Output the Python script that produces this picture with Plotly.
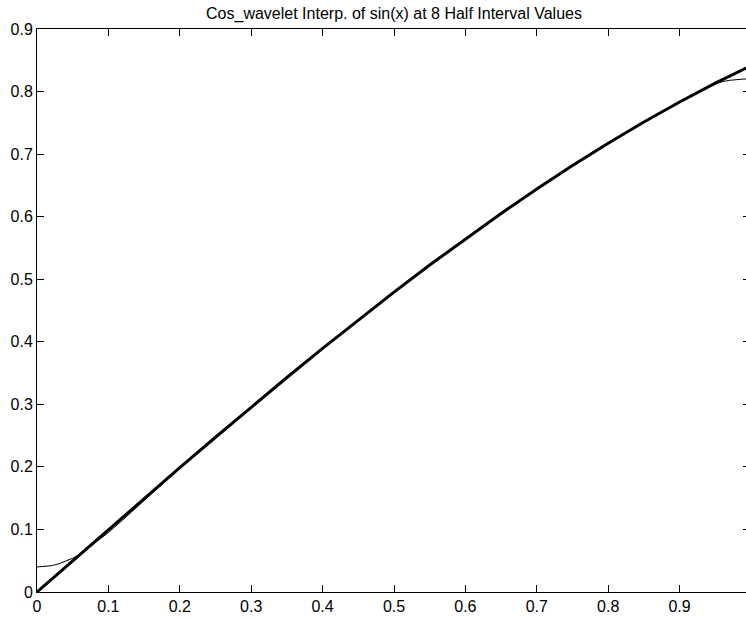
import plotly.graph_objects as go

# sin(x) samples (thick line)
x_sin = [0.00, 0.05, 0.10, 0.15, 0.20, 0.25, 0.30, 0.35, 0.40, 0.45, 0.50,
         0.55, 0.60, 0.65, 0.70, 0.75, 0.80, 0.85, 0.90, 0.95, 1.00]
y_sin = [0.0000, 0.0500, 0.0998, 0.1494, 0.1987, 0.2474, 0.2955, 0.3429, 0.3894,
         0.4350, 0.4794, 0.5227, 0.5646, 0.6052, 0.6442, 0.6816, 0.7174, 0.7513,
         0.7833, 0.8134, 0.8415]

# Cos_wavelet interpolation (thin line)
x_interp = [0.00, 0.01, 0.02, 0.03, 0.04, 0.05, 0.06, 0.07, 0.08, 0.10, 0.12,
            0.14, 0.16, 0.18, 0.20, 0.25, 0.30, 0.35, 0.40, 0.45, 0.50, 0.55,
            0.60, 0.65, 0.70, 0.75, 0.80, 0.85, 0.90, 0.92, 0.94, 0.95, 0.96,
            0.97, 0.98, 0.99, 1.00]
y_interp = [0.0400, 0.0405, 0.0420, 0.0448, 0.0488, 0.0540, 0.0600, 0.0685,
            0.0770, 0.0950, 0.1150, 0.1355, 0.1565, 0.1780, 0.1980, 0.2474,
            0.2955, 0.3429, 0.3894, 0.4350, 0.4794, 0.5227, 0.5646, 0.6052,
            0.6442, 0.6816, 0.7174, 0.7513, 0.7833, 0.7956, 0.8070, 0.8120,
            0.8158, 0.8180, 0.8193, 0.8200, 0.8200]

x_ticks = [0, 0.1, 0.2, 0.3, 0.4, 0.5, 0.6, 0.7, 0.8, 0.9]
x_labels = ["0", "0.1", "0.2", "0.3", "0.4", "0.5", "0.6", "0.7", "0.8", "0.9"]
y_ticks = [0, 0.1, 0.2, 0.3, 0.4, 0.5, 0.6, 0.7, 0.8, 0.9]
y_labels = ["0", "0.1", "0.2", "0.3", "0.4", "0.5", "0.6", "0.7", "0.8", "0.9"]

title_text = "Cos_wavelet Interp. of sin(x) at 8 Half Interval Values"

FONT = "Liberation Sans, Arial, Helvetica, sans-serif"

fig = go.Figure()
fig.add_trace(go.Scatter(x=x_sin, y=y_sin, mode="lines",
                         line=dict(color="black", width=3),
                         showlegend=False, hoverinfo="skip"))
fig.add_trace(go.Scatter(x=x_interp, y=y_interp, mode="lines",
                         line=dict(color="black", width=1),
                         showlegend=False, hoverinfo="skip"))
# dummy trace to activate right-side tick axis
fig.add_trace(go.Scatter(x=[0], y=[0], mode="lines", yaxis="y2",
                         line=dict(color="rgba(0,0,0,0)"),
                         showlegend=False, hoverinfo="skip"))

fig.update_layout(
    width=746, height=619,
    margin=dict(l=37, r=0, t=29, b=27),
    paper_bgcolor="white", plot_bgcolor="white",
    font=dict(family=FONT, size=16, color="black"),
    title=dict(text=title_text, x=(394 - 37) / 709, xref="paper",
               y=1 - 13 / 619, yref="container", xanchor="center",
               yanchor="middle", font=dict(size=16, family=FONT)),
    xaxis=dict(range=[0, 709 / 714], tickvals=x_ticks, ticktext=x_labels,
               ticks="inside", ticklen=7, tickcolor="black", tickwidth=1,
               showline=True, linecolor="black", linewidth=1, mirror="ticks",
               showgrid=False, zeroline=False, fixedrange=True),
    yaxis=dict(range=[0, 0.9], tickvals=y_ticks, ticktext=y_labels,
               ticks="inside", ticklen=7, tickcolor="black", tickwidth=1,
               showline=True, linecolor="black", linewidth=1, mirror=False,
               showgrid=False, zeroline=False, fixedrange=True),
    yaxis2=dict(range=[0, 0.9], overlaying="y", side="right", anchor="x",
                tickvals=y_ticks, showticklabels=False,
                ticks="inside", ticklen=3, tickcolor="black", tickwidth=1,
                showline=False, showgrid=False, zeroline=False, fixedrange=True),
)

fig.write_html("out.html",
               config={"displayModeBar": False, "staticPlot": True},
               post_script="document.body.style.margin='0';"
                           "document.body.style.overflow='hidden';")
